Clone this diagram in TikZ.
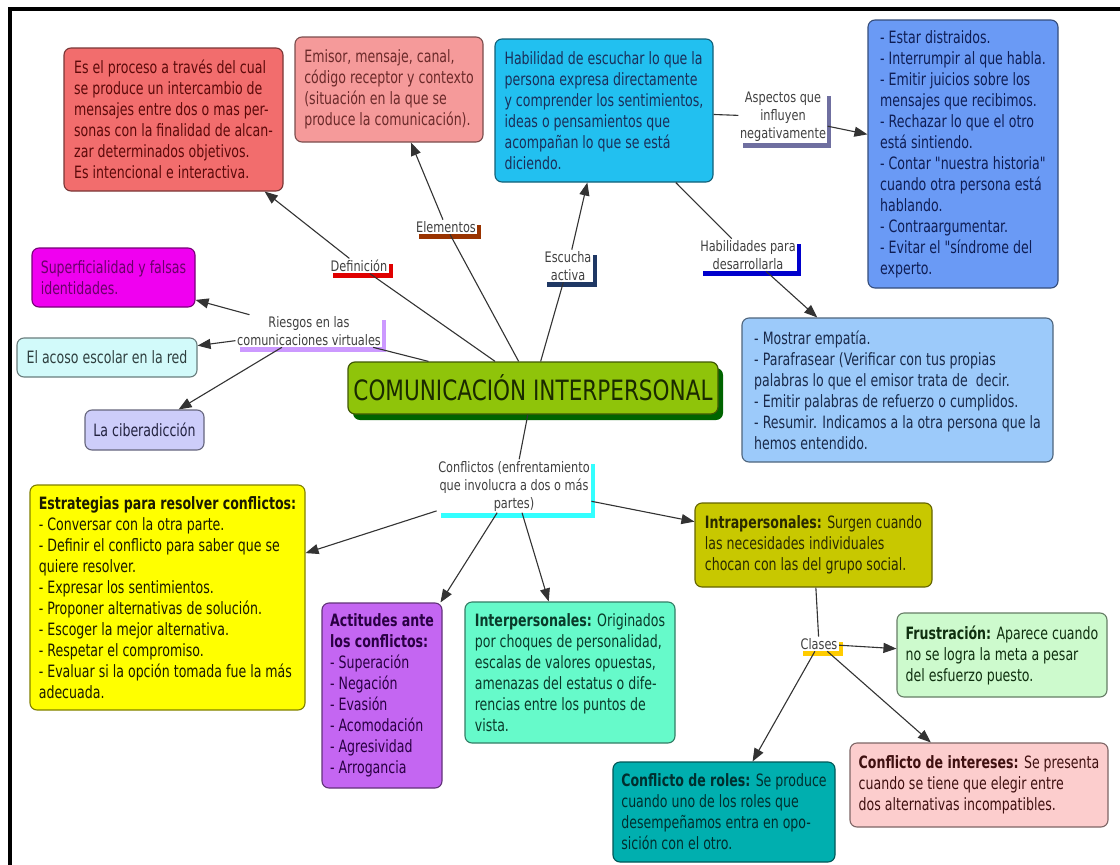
\documentclass[tikz,border=0pt]{standalone}
\usepackage{fontspec}
\setmainfont{DejaVu Sans}[FakeStretch=0.74, Ligatures=TeXOff]
\newfontfamily\lblfont{DejaVu Sans}[FakeStretch=0.78, Ligatures=TeXOff]
\newfontfamily\titlefont{DejaVu Sans}[FakeStretch=0.77, Ligatures=TeXOff]
\usetikzlibrary{arrows.meta,shadows}
\definecolor{cRed}{HTML}{F26D6D}
\definecolor{cPink}{HTML}{F59A9A}
\definecolor{cCyan}{HTML}{22C0F0}
\definecolor{cBlue}{HTML}{6A9AF5}
\definecolor{cLtBlue}{HTML}{9CCAFA}
\definecolor{cMag}{HTML}{F000F0}
\definecolor{cAcoso}{HTML}{D2FAFA}
\definecolor{cCiber}{HTML}{CDCDFA}
\definecolor{cGreen}{HTML}{8FC40A}
\definecolor{cDkGreen}{HTML}{006400}
\definecolor{cYellow}{HTML}{FFFF00}
\definecolor{cPurple}{HTML}{C466F2}
\definecolor{cAqua}{HTML}{66FACA}
\definecolor{cOlive}{HTML}{C8C800}
\definecolor{cFrus}{HTML}{CDFACD}
\definecolor{cRoles}{HTML}{00AFAF}
\definecolor{cInter}{HTML}{FCCDCD}
\definecolor{tRed}{HTML}{5C0A0A}
\definecolor{tPink}{HTML}{6B2A2A}
\definecolor{tCyan}{HTML}{1A2F5A}
\definecolor{tBlue}{HTML}{0F1E55}
\definecolor{tLtBlue}{HTML}{1A2A4A}
\definecolor{tMag}{HTML}{6A006A}
\definecolor{tAcoso}{HTML}{2F3F3F}
\definecolor{tCiber}{HTML}{22223F}
\definecolor{tYellow}{HTML}{1A1A00}
\definecolor{tPurple}{HTML}{2A0044}
\definecolor{tAqua}{HTML}{0A3A2A}
\definecolor{tOlive}{HTML}{2A2A00}
\definecolor{tFrus}{HTML}{0F2F0F}
\definecolor{tRoles}{HTML}{002F2F}
\definecolor{tInter}{HTML}{3F1010}
\definecolor{tTitle}{HTML}{1A2A00}
\definecolor{lblText}{HTML}{404040}
\definecolor{lnCol}{HTML}{333333}
\definecolor{sRed}{HTML}{E00000}
\definecolor{sBrown}{HTML}{993300}
\definecolor{sNavy}{HTML}{1F3864}
\definecolor{sBlue}{HTML}{0000CC}
\definecolor{sSlate}{HTML}{6F6FA0}
\definecolor{sLilac}{HTML}{CC99FF}
\definecolor{sCyan}{HTML}{33FFFF}
\definecolor{sOrange}{HTML}{FFCC00}
\begin{document}
\begin{tikzpicture}[x=1pt,y=-1pt,
  bx/.style 2 args={rounded corners=7pt, line width=1.1pt, fill=#1, draw=#1!50!black,
    text=#2, align=left, inner sep=0pt, font=\fontsize{17}{21}\selectfont},
  lb/.style={fill=white, align=center, inner sep=1.5pt, text=lblText,
    font=\lblfont\fontsize{14.5}{18}\selectfont,
    drop shadow={shadow xshift=4pt, shadow yshift=-5pt, fill=#1, opacity=1}},
  ln/.style={draw=lnCol, line width=1.1pt},
  ar/.style={draw=lnCol, line width=1.1pt, -{Triangle[length=13pt,width=10pt]}}]
\useasboundingbox (0,0) rectangle (1120,865);
\fill[white] (0,0) rectangle (1120,865);
\draw[line width=3.5pt] (10,865) -- (10,9) -- (1120,9);

% central node
\node[rounded corners=7pt, line width=1.2pt, fill=cGreen, draw=cGreen!45!black,
  drop shadow={shadow xshift=5pt, shadow yshift=-6pt, fill=cDkGreen, opacity=1},
  minimum width=370, minimum height=52, inner sep=0pt, text=tTitle,
  font=\titlefont\fontsize{28}{30}\selectfont] (ci) at (533,388) {COMUNICACIÓN INTERPERSONAL};

% boxes
\node[bx={cRed}{tRed}, minimum width=219, minimum height=143] (defbox) at (173.5,119.5)
 {Es el proceso a través del cual\\se produce un intercambio de\\mensajes entre dos o mas per-\\sonas con la finalidad de alcan-\\zar determinados objetivos.\\Es intencional e interactiva.};
\node[bx={cPink}{tPink}, minimum width=188, minimum height=105] (elembox) at (389,89.5)
 {Emisor, mensaje, canal,\\código receptor y contexto\\(situación en la que se\\produce la comunicación).};
\node[bx={cCyan}{tCyan}, minimum width=218, minimum height=143] (escbox) at (604,110.5)
 {Habilidad de escuchar lo que la\\persona expresa directamente\\y comprender los sentimientos,\\ideas o pensamientos que\\acompañan lo que se está\\diciendo.};
\node[bx={cBlue}{tBlue}, minimum width=190, minimum height=268] (aspbox) at (963,154)
 {- Estar distraidos.\\- Interrumpir al que habla.\\- Emitir juicios sobre los\\mensajes que recibimos.\\- Rechazar lo que el otro\\está sintiendo.\\- Contar "nuestra historia"\\cuando otra persona está\\hablando.\\- Contraargumentar.\\- Evitar el "síndrome del\\experto.};
\node[bx={cLtBlue}{tLtBlue}, minimum width=311, minimum height=144] (habbox) at (897.5,390)
 {- Mostrar empatía.\\- Parafrasear (Verificar con tus propias\\palabras lo que el emisor trata de \ decir.\\- Emitir palabras de refuerzo o cumplidos.\\- Resumir. Indicamos a la otra persona que la\\hemos entendido.};
\node[bx={cMag}{tMag}, minimum width=163, minimum height=59] (magbox) at (113.5,277.5)
 {Superficialidad y falsas\\identidades.};
\node[bx={cAcoso}{tAcoso}, minimum width=180, minimum height=39] (acobox) at (107,357.5)
 {El acoso escolar en la red};
\node[bx={cCiber}{tCiber}, minimum width=119, minimum height=40] (cibbox) at (144.5,430)
 {La ciberadicción};
\node[bx={cYellow}{tYellow}, minimum width=275, minimum height=225] (estbox) at (167.5,597.5)
 {\textbf{Estrategias para resolver conflictos:}\\- Conversar con la otra parte.\\- Definir el conflicto para saber que se\\quiere resolver.\\- Expresar los sentimientos.\\- Proponer alternativas de solución.\\- Escoger la mejor alternativa.\\- Respetar el compromiso.\\- Evaluar si la opción tomada fue la más\\adecuada.};
\node[bx={cPurple}{tPurple}, minimum width=120, minimum height=185] (actbox) at (382,695.5)
 {\textbf{Actitudes ante}\\\textbf{los conflictos:}\\- Superación\\- Negación\\- Evasión\\- Acomodación\\- Agresividad\\- Arrogancia};
\node[bx={cAqua}{tAqua}, minimum width=210, minimum height=141] (intbox) at (570,672.5)
 {\textbf{Interpersonales:} Originados\\por choques de personalidad,\\escalas de valores opuestas,\\amenazas del estatus o dife-\\rencias entre los puntos de\\vista.};
\node[bx={cOlive}{tOlive}, minimum width=237, minimum height=84] (intrabox) at (813.5,545)
 {\textbf{Intrapersonales:} Surgen cuando\\las necesidades individuales\\chocan con las del grupo social.};
\node[bx={cFrus}{tFrus}, minimum width=210, minimum height=84] (frusbox) at (1002,655)
 {\textbf{Frustración:} Aparece cuando\\no se logra la meta a pesar\\del esfuerzo puesto.};
\node[bx={cRoles}{tRoles}, minimum width=222, minimum height=100] (rolbox) at (724,812)
 {\textbf{Conflicto de roles:} Se produce\\cuando uno de los roles que\\desempeñamos entra en opo-\\sición con el otro.};
\node[bx={cInter}{tInter}, minimum width=258, minimum height=84] (intebox) at (979,785)
 {\textbf{Conflicto de intereses:} Se presenta\\cuando se tiene que elegir entre\\dos alternativas incompatibles.};

% linking labels
\node[lb=sRed] (def) at (359,266) {Definición};
\node[lb=sBrown] (elem) at (446,227) {Elementos};
\node[lb=sNavy] (esc) at (568,266) {Escucha\\activa};
\node[lb=sBlue] (hab) at (748,255) {Habilidades para\\desarrollarla};
\node[lb=sSlate] (asp) at (783,117) {Aspectos que\\influyen\\negativamente};
\node[lb=sLilac] (ries) at (309,331) {Riesgos en las\\comunicaciones virtuales};
\node[lb=sCyan] (conf) at (514,486) {Conflictos (enfrentamiento\\que involucra a dos o más\\partes)};
\node[lb=sOrange] (cla) at (819,644) {Clases};

% connectors
\draw[ln] (ci) -- (def);
\draw[ar] (def) -- (defbox);
\draw[ln] (ci) -- (elem);
\draw[ar] (elem) -- (elembox);
\draw[ln] (ci) -- (esc);
\draw[ar] (esc) -- (escbox);
\draw[ln] (escbox) -- (hab);
\draw[ar] (hab) -- (habbox);
\draw[ln] (escbox) -- (asp);
\draw[ar] (asp) -- (aspbox);
\draw[ln] (ci) -- (ries);
\draw[ar] (ries) -- (magbox);
\draw[ar] (ries) -- (acobox);
\draw[ar] (ries) -- (cibbox);
\draw[ln] (ci) -- (conf);
\draw[ar] (conf) -- (estbox);
\draw[ar] (conf) -- (actbox);
\draw[ar] (conf) -- (intbox);
\draw[ar] (conf) -- (intrabox);
\draw[ln] (intrabox) -- (cla);
\draw[ar] (cla) -- (frusbox);
\draw[ar] (cla) -- (rolbox);
\draw[ar] (cla) -- (intebox);
\end{tikzpicture}
\end{document}
